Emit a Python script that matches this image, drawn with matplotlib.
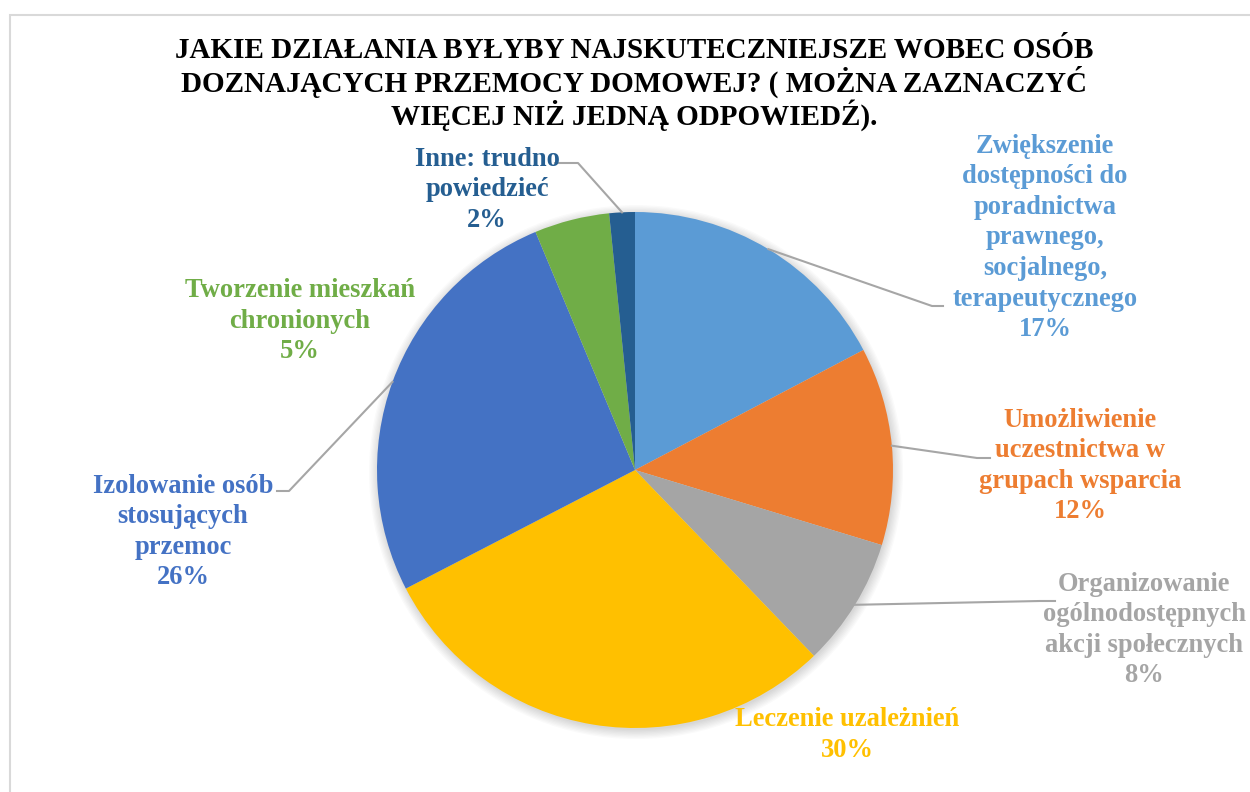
import numpy as np
from matplotlib import pyplot as plt
from matplotlib.patches import Rectangle, Circle

title = ('JAKIE DZIAŁANIA BYŁYBY NAJSKUTECZNIEJSZE WOBEC OSÓB\n'
         'DOZNAJĄCYCH PRZEMOCY DOMOWEJ? ( MOŻNA ZAZNACZYĆ\n'
         'WIĘCEJ NIŻ JEDNĄ ODPOWIEDŹ).')

categories = [
    'Zwiększenie\ndostępności do\nporadnictwa\nprawnego,\nsocjalnego,\nterapeutycznego',
    'Umożliwienie\nuczestnictwa w\ngrupach wsparcia',
    'Organizowanie\nogólnodostępnych\nakcji społecznych',
    'Leczenie uzależnień',
    'Izolowanie osób\nstosujących\nprzemoc',
    'Tworzenie mieszkań\nchronionych',
    'Inne: trudno\npowiedzieć',
]
values = [17.3, 12.4, 8.1, 29.6, 26.3, 4.7, 1.6]
colors = ['#5B9BD5', '#ED7D31', '#A5A5A5', '#FFC000', '#4472C4', '#70AD47', '#255E91']

# label centres and leader lines, in pixels of the 1250x792 picture
label_pos = [(1045, 238), (1080, 466), (1144, 630), (847, 735),
             (183, 532), (300, 321), (487, 190)]
leaders = {0: [(932, 306), (943, 306)],
           1: [(977, 458), (990, 458)],
           2: [(1040, 601), (1055, 601)],
           4: [(289, 491), (277, 491)],
           6: [(578, 163), (555, 163)]}

W, H = 1250, 792
cx, cy, r = 635, 470, 258


def px(x, y):
    return (x - cx) / r, (cy - y) / r


fig = plt.figure(figsize=(12.5, 7.92), dpi=100)
ax = fig.add_axes([0, 0, 1, 1])

# soft shadow under the pie
for k in range(8):
    ax.add_patch(Circle((0.004, -0.008), 1 + 0.005 * k, color='black',
                        alpha=0.018, lw=0, zorder=0))

wedges, _ = ax.pie(values, colors=colors, startangle=90, counterclock=False,
                   radius=1, center=(0, 0),
                   wedgeprops=dict(linewidth=0, zorder=2))
ax.set_xlim(-cx / r, (W - cx) / r)
ax.set_ylim(-(H - cy) / r, cy / r)
ax.set_aspect('auto')
ax.axis('off')

for i, w in enumerate(wedges):
    lx, ly = px(*label_pos[i])
    txt = categories[i] + '\n' + '%.0f%%' % values[i]
    ax.text(lx, ly, txt, ha='center', va='center', multialignment='center',
            color=colors[i], fontsize=19.1, fontweight='bold',
            family='Liberation Serif', linespacing=1.29, zorder=5)
    if i in leaders:
        mid = np.deg2rad((w.theta1 + w.theta2) / 2)
        pts = [(np.cos(mid), np.sin(mid))] + [px(*p) for p in leaders[i]]
        xs, ys = zip(*pts)
        ax.plot(xs, ys, color='#A6A6A6', lw=1.5, zorder=4)

fig.text(634 / W, 1 - 84 / H, title, ha='center', va='center',
         multialignment='center', fontsize=21, fontweight='bold',
         family='Liberation Serif', linespacing=1.07)

fig.patches.append(Rectangle((10 / W, -0.1), 2, (H - 15) / H + 0.1,
                             transform=fig.transFigure, fill=False,
                             edgecolor='#D9D9D9', lw=1.5))

fig.savefig('out.png', dpi=100, facecolor='white')
